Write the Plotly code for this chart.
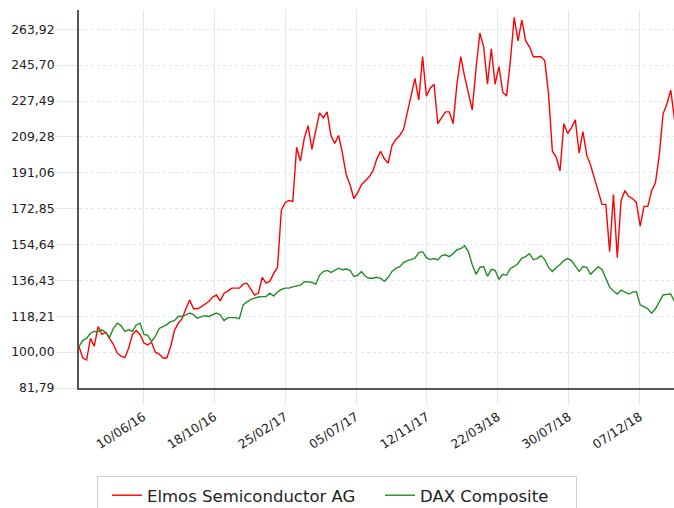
import pandas as pd
import plotly.graph_objects as go

# Weekly sample dates (category axis)
dates = pd.date_range("2016-02-13", periods=157, freq="7D")

elmos = [102.8, 97, 96, 107, 103, 113, 109, 110, 107, 104,
         99.6, 98, 97.2, 102, 109, 111, 109, 104.6, 103.7, 105,
         100, 99, 97, 97, 102.8, 111, 114.7, 117, 122, 126.5,
         122, 122, 123, 124.5, 125.7, 128, 129, 126, 129.9, 131,
         132.5, 132.5, 132.5, 134.5, 135, 132, 129, 130, 138, 135,
         136, 140, 143, 172, 176, 177, 176.5, 204, 197, 208.5,
         215, 203, 212.8, 221.5, 219, 222, 210, 206, 210, 201,
         190, 185, 178, 181, 185, 187, 189, 192, 198, 202,
         198, 196, 205, 208, 210, 213, 222, 231, 239, 228,
         250, 230, 234, 236, 216, 219, 222, 222, 216, 236,
         250, 240, 232, 223, 244, 262, 255, 236, 254, 236,
         245, 232, 230, 248, 270, 258, 268.6, 258, 255, 250,
         250, 250, 248, 231, 202, 199, 192, 216, 211, 214,
         218, 201, 212, 200, 195, 188, 182, 175, 175, 151,
         180, 148, 177, 182, 179, 178, 176, 164, 174, 174,
         182, 186, 200, 221, 226, 233, 218]

dax = [102.8, 106, 107, 109.6, 110.5, 110.5, 111.3, 110, 107.5, 112,
       114.7, 113.5, 110.5, 111.3, 110.5, 113.8, 114.7, 109, 108.5, 105.4,
       108, 112, 113, 114, 115.5, 116, 118.2, 118.1, 118.9, 119.8,
       119, 117.2, 118, 118.5, 118.1, 119, 119.8, 119, 116, 117.5,
       117.5, 117.5, 117, 124, 125.5, 126.8, 127.4, 128, 128.2, 128.2,
       129.9, 128.5, 130.5, 131.8, 132.5, 132.5, 133.1, 133.4, 134, 135.8,
       135.8, 135.5, 134.5, 139, 140.9, 141.5, 140.5, 141.5, 142.6, 141.8,
       142.2, 141.5, 138.4, 139, 140.9, 138.5, 137.5, 137.5, 138, 137.5,
       136, 138, 141, 142.5, 143.4, 145.5, 146.5, 147, 147.7, 150.5,
       151, 148, 147, 147.5, 146.8, 149, 149.4, 148.5, 150, 152,
       152.5, 154, 151, 144.5, 139.5, 143, 143.4, 138.5, 142, 141.5,
       137, 139.5, 139, 142.5, 143.5, 145, 147.7, 148.5, 150, 147,
       147.5, 149, 147, 143, 141, 143, 144.5, 146.5, 147.5, 146.5,
       144, 141, 143.5, 143, 139.5, 141.5, 143.4, 142, 137, 133,
       131, 129.5, 131.5, 130.5, 129.5, 130.5, 130.7, 124, 123, 122,
       119.8, 122, 125.5, 129, 129.3, 129.5, 125.7]

x_tickvals = ["2016-06-10", "2016-10-18", "2017-02-25", "2017-07-05",
              "2017-11-12", "2018-03-22", "2018-07-30", "2018-12-07"]
x_ticktext = ["10/06/16", "18/10/16", "25/02/17", "05/07/17",
              "12/11/17", "22/03/18", "30/07/18", "07/12/18"]
y_tickvals = [81.79, 100.00, 118.21, 136.43, 154.64, 172.85,
              191.06, 209.28, 227.49, 245.70, 263.92]
y_ticktext = ["81,79", "100,00", "118,21", "136,43", "154,64", "172,85",
              "191,06", "209,28", "227,49", "245,70", "263,92"]

FONT = "DejaVu Sans"
GRID = "#dde8f6"

# page geometry (pixels) used for paper-coordinate placement
W, H = 674, 516
ML, MR, MT, MB = 79, 0, 10, 128
PW, PH = W - ML - MR, H - MT - MB
BOTTOM = MT + PH  # pixel row of the x axis


def px_x(px):
    return (px - ML) / PW


def px_y(py):
    return (BOTTOM - py) / PH


fig = go.Figure()
fig.add_trace(go.Scatter(x=dates, y=elmos, mode="lines", name="Elmos Semiconductor AG",
                         line=dict(color="#ff0000", width=1.4)))
fig.add_trace(go.Scatter(x=dates, y=dax, mode="lines", name="DAX Composite",
                         line=dict(color="#228b22", width=1.4)))

# legend frame
fig.add_shape(type="rect", xref="paper", yref="paper",
              x0=px_x(97.5), x1=px_x(576.5), y0=px_y(476.5), y1=px_y(530),
              line=dict(color="#cccccc", width=1), fillcolor="rgba(0,0,0,0)", layer="above")

fig.update_layout(
    width=W, height=H,
    margin=dict(l=ML, r=MR, t=MT, b=MB),
    paper_bgcolor="white", plot_bgcolor="white",
    font=dict(family=FONT, color="#222222"),
    showlegend=True,
    legend=dict(orientation="h", x=px_x(107), xanchor="left", y=px_y(478), yanchor="top",
                borderwidth=0, bgcolor="rgba(0,0,0,0)",
                entrywidth=228, entrywidthmode="pixels",
                font=dict(family=FONT, size=16.5, color="#222222")),
    xaxis=dict(range=["2016-02-13", "2019-02-08"], automargin=False,
               tickmode="array", tickvals=x_tickvals, ticktext=x_ticktext,
               tickangle=-33, tickfont=dict(family=FONT, size=12.4, color="#222222"),
               showgrid=True, gridcolor=GRID, gridwidth=1,
               ticks="outside", ticklen=15, tickcolor=GRID, tickwidth=1,
               showline=True, linecolor="#555555", linewidth=2,
               zeroline=False),
    yaxis=dict(range=[81.79, 273.7], automargin=False,
               tickmode="array", tickvals=y_tickvals, ticktext=y_ticktext,
               tickfont=dict(family=FONT, size=12.4, color="#222222"),
               showgrid=True, gridcolor=GRID, gridwidth=1, griddash="dot",
               ticks="outside", ticklen=20, tickcolor=GRID, tickwidth=1,
               showline=True, linecolor="#555555", linewidth=2,
               zeroline=False),
)

fig.write_html("out.html", config={"displayModeBar": False},
               post_script="document.body.style.margin='0';document.body.style.overflow='hidden';")
